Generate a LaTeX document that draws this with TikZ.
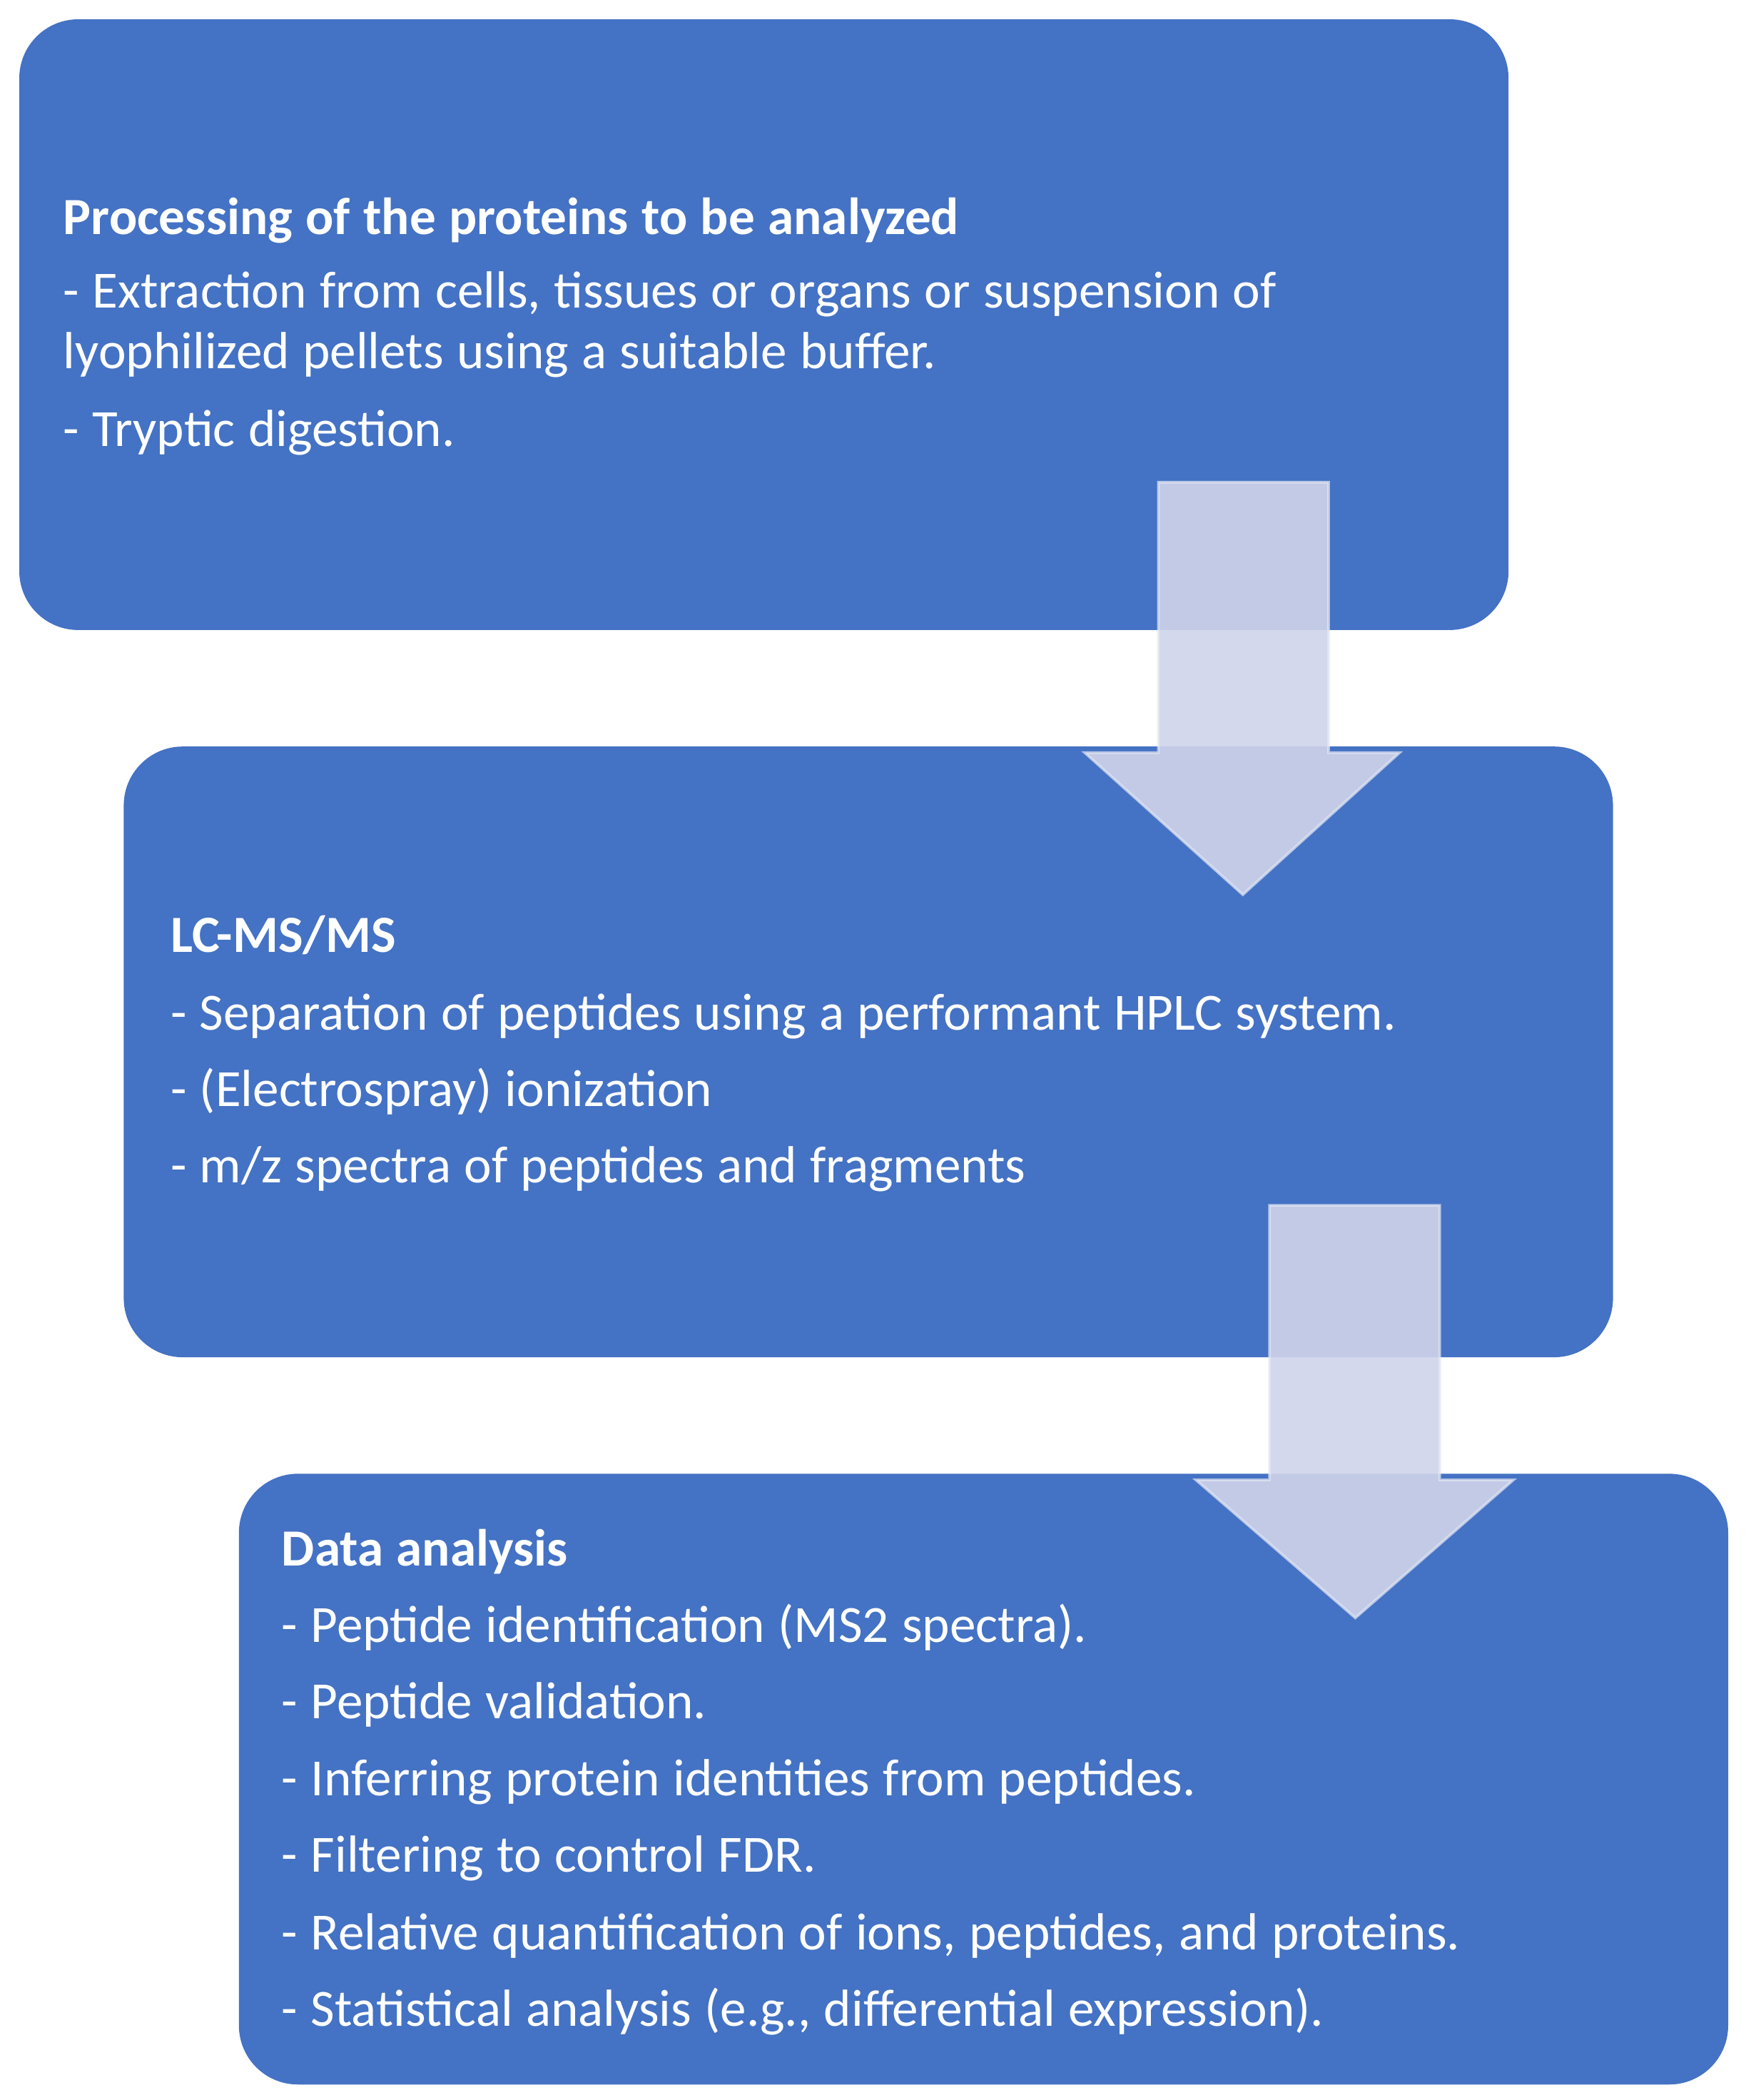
\documentclass[tikz,border=0pt]{standalone}
\usepackage{fontspec}
\setmainfont{Carlito}
\definecolor{boxblue}{RGB}{68,114,196}
\definecolor{arrowfill}{RGB}{208,212,234}
\definecolor{arrowline}{RGB}{228,231,244}
\newcommand{\boxfont}{\fontsize{19.5}{23}\selectfont\spaceskip=4.9pt plus 0.5pt minus 0.5pt\relax}
\begin{document}
\begin{tikzpicture}[x=0.5pt,y=-0.5pt,
  stepbox/.style={fill=boxblue, draw=none, rounded corners=22pt, anchor=north west,
    minimum width=556pt, minimum height=228pt, inner sep=0pt},
  txt/.style={anchor=base west, inner sep=0pt, text=white, font=\boxfont},
  ttl/.style={txt, font=\boxfont\bfseries},
  blockarrow/.style={fill=arrowfill, fill opacity=0.9, draw=arrowline, draw opacity=0.7, line width=1pt}]
\useasboundingbox (0,0) rectangle (1307,1568);
\fill[white] (0,0) rectangle (1307,1568);
% boxes
\node[stepbox] (b1) at (14,14) {};
\node[stepbox] (b2) at (92,557) {};
\node[stepbox] (b3) at (178,1100) {};
% box 1 text
\node[ttl] (t1) at (47,175) {Processing of the proteins to be analyzed};
\node[txt] (t1a) at (47,230) {- Extraction from cells, tissues or organs or suspension of};
\node[txt] (t1b) at (47,275) {lyophilized pellets using a suitable buffer.};
\node[txt] (t1c) at (47,333) {- Tryptic digestion.};
% box 2 text
\node[ttl] (t2) at (127,711) {LC-MS/MS};
\node[txt] (t2a) at (127,769) {- Separation of peptides using a performant HPLC system.};
\node[txt] (t2b) at (127,826) {- (Electrospray) ionization};
\node[txt] (t2c) at (127,883) {- m/z spectra of peptides and fragments};
% box 3 text
\node[ttl] (t3) at (210,1169) {Data analysis};
\node[txt] (t3a) at (210,1226) {- Peptide identification (MS2 spectra).};
\node[txt] (t3b) at (210,1283) {- Peptide validation.};
\node[txt] (t3c) at (210,1341) {- Inferring protein identities from peptides.};
\node[txt] (t3d) at (210,1398) {- Filtering to control FDR.};
\node[txt] (t3e) at (210,1456) {- Relative quantification of ions, peptides, and proteins.};
\node[txt] (t3f) at (210,1513) {- Statistical analysis (e.g., differential expression).};
% arrows
\draw[blockarrow] (865,360) -- (992,360) -- (992,562) -- (1045,562) -- (928,668) -- (810,562) -- (865,562) -- cycle;
\draw[blockarrow] (948,900) -- (1075,900) -- (1075,1105) -- (1130,1105) -- (1012,1208) -- (893,1105) -- (948,1105) -- cycle;
\end{tikzpicture}
\end{document}
